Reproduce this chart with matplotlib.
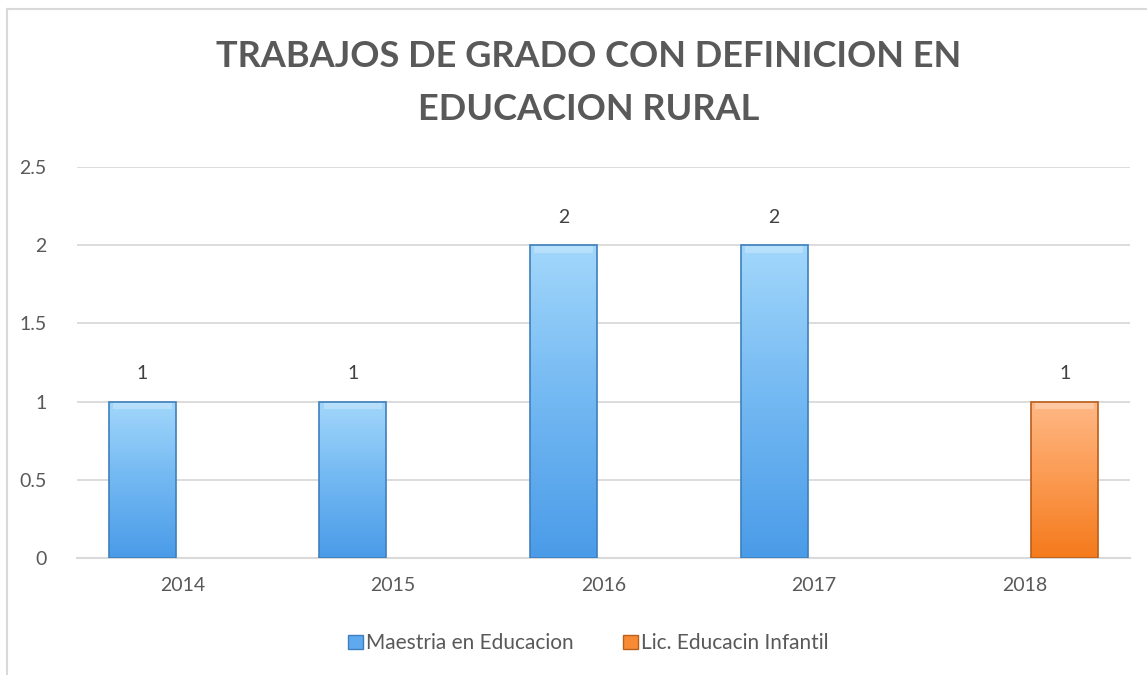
import matplotlib
matplotlib.use("Agg")
import matplotlib.pyplot as plt
import numpy as np
from matplotlib.colors import LinearSegmentedColormap
from matplotlib.patches import Patch
from matplotlib.lines import Line2D

plt.rcParams['font.family'] = ['Lato', 'DejaVu Sans']

years = ['2014', '2015', '2016', '2017', '2018']
maestria = [1, 1, 2, 2, 0]
lic_infantil = [0, 0, 0, 0, 1]
series_names = ['Maestria en Educacion', 'Lic. Educacin Infantil']

text_gray = '#595959'
grid_gray = '#d9d9d9'
blue_cmap = LinearSegmentedColormap.from_list('b', ['#4a9be8', '#72b8f2', '#a2d7fb'])
orange_cmap = LinearSegmentedColormap.from_list('o', ['#f57a1c', '#fb9a50', '#ffb886'])

fig = plt.figure(figsize=(11.47, 6.75), dpi=100)
ax = fig.add_axes([0.0671, 0.1733, 0.9181, 0.5793])

x = np.arange(len(years))
width = 0.318
offset = 0.19

bars_a = ax.bar(x - offset, maestria, width, color='#5fa9ee', linewidth=0, zorder=3)
bars_b = ax.bar(x + offset, lic_infantil, width, color='#f98a35', linewidth=0, zorder=3)
edges = {id(bars_a): '#3f7fbd', id(bars_b): '#b85f1c'}

# gradient fill inside each bar
grad = np.linspace(0, 1, 256).reshape(-1, 1)
for bars, cmap in [(bars_a, blue_cmap), (bars_b, orange_cmap)]:
    for b in bars:
        h = b.get_height()
        if h <= 0:
            continue
        x0 = b.get_x()
        im = ax.imshow(grad, cmap=cmap, origin='lower', aspect='auto',
                       extent=[x0, x0 + b.get_width(), 0, h], zorder=3.5)
        im.set_clip_path(b)
        # bevel highlight at top
        ax.fill_between([x0 + 0.02, x0 + b.get_width() - 0.02], h - 0.05, h - 0.002,
                        color='white', alpha=0.25, lw=0, zorder=3.6)
        ax.bar(x0, h, b.get_width(), align='edge', fill=False,
               edgecolor=edges[id(bars)], linewidth=1.2, zorder=3.7)

labels_a = [str(v) if v else '' for v in maestria]
labels_b = [str(v) if v else '' for v in lic_infantil]
ax.bar_label(bars_a, labels=labels_a, padding=14, fontsize=14, color='#404040')
ax.bar_label(bars_b, labels=labels_b, padding=14, fontsize=14, color='#404040')

ax.set_xlim(-0.5, len(years) - 0.5)
ax.set_ylim(0, 2.5)
ax.set_yticks([0, 0.5, 1, 1.5, 2, 2.5])
ax.set_yticklabels(['0', '0.5', '1', '1.5', '2', '2.5'])
ax.set_xticks(x)
ax.set_xticklabels(years)
ax.tick_params(axis='both', length=0, labelsize=14, labelcolor=text_gray)
ax.tick_params(axis='y', pad=22)
ax.tick_params(axis='x', pad=14)
ax.yaxis.grid(True, color=grid_gray, linewidth=1.3, zorder=0)
ax.set_axisbelow(True)
for s in ['top', 'right', 'left']:
    ax.spines[s].set_visible(False)
ax.spines['bottom'].set_color(grid_gray)
ax.spines['bottom'].set_linewidth(1.5)

fig.text(0.513, 0.877, 'TRABAJOS DE GRADO CON DEFINICION EN\nEDUCACION RURAL',
         ha='center', va='center', fontsize=26, fontweight='bold', color=text_gray,
         linespacing=1.75)

handles = [Patch(facecolor='#5fa9ee', edgecolor='#3f7fbd'),
           Patch(facecolor='#f98a35', edgecolor='#b85f1c')]
fig.legend(handles, series_names, loc='center', bbox_to_anchor=(0.513, 0.047), ncol=2,
           frameon=False, fontsize=15, labelcolor=text_gray, handlelength=0.7,
           handleheight=0.7, handletextpad=0.15, columnspacing=2.4)

# chart frame (left and top edges visible)
fig.add_artist(Line2D([7 / 1147, 7 / 1147], [0, 1 - 9 / 675], color=grid_gray, linewidth=1.5))
fig.add_artist(Line2D([7 / 1147, 1], [1 - 9 / 675, 1 - 9 / 675], color=grid_gray, linewidth=1.5))

fig.savefig('out.png', dpi=100)
